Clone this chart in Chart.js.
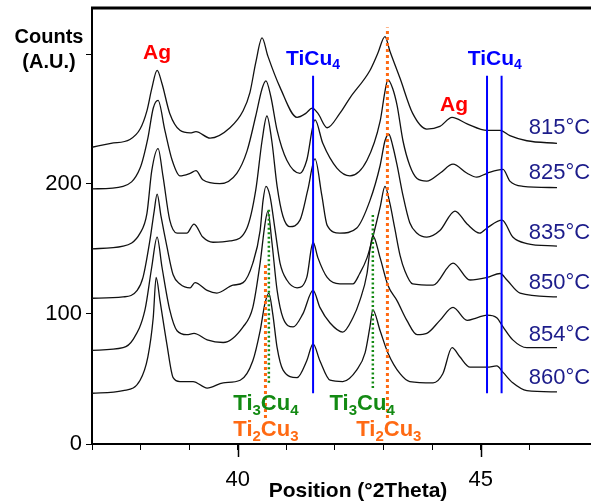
<!DOCTYPE html>
<html>
<head>
<meta charset="utf-8">
<script src="https://cdn.jsdelivr.net/npm/chart.js@4.4.1/dist/chart.umd.min.js"></script>
<style>
    html, body { margin: 0; padding: 0; background: #fff; overflow: hidden; }
    #wrap { width: 591px; height: 504px; position: relative; }
</style>
</head>
<body>
<div id="wrap"><canvas id="xrd"></canvas></div>
<script>
// temperatures of the six scans, top to bottom
const temps = ['815°C', '825°C', '835°C', '850°C', '854°C', '860°C'];

// [2theta, counts] (curves already offset in the figure)
const s815 = [[37.00,228],[37.39,231],[37.78,234],[37.99,242],[38.13,256],[38.23,273],[38.34,287],[38.44,277],[38.60,254],[38.81,241],[39.02,239],[39.14,240],[39.43,235],[39.84,243],[40.11,256],[40.25,270],[40.37,293],[40.50,312],[40.62,298],[40.87,274],[41.22,251],[41.40,254],[41.53,258],[41.65,254],[41.84,243],[42.10,254],[42.31,266],[42.72,287],[42.88,300],[43.03,313],[43.13,302],[43.34,281],[43.60,254],[43.89,242],[44.16,244],[44.41,251],[44.72,246],[45.13,241],[45.40,241],[45.60,237],[45.95,233],[46.57,231]];
const s825 = [[37.00,196],[37.64,198],[37.99,212],[38.15,235],[38.26,258],[38.36,264],[38.50,241],[38.65,218],[38.81,206],[39.02,208],[39.14,210],[39.28,203],[39.63,200],[39.98,208],[40.19,225],[40.37,252],[40.50,273],[40.58,279],[40.68,267],[40.81,241],[41.01,218],[41.28,208],[41.42,218],[41.59,249],[41.75,231],[42.04,212],[42.31,206],[42.66,218],[42.93,248],[43.03,271],[43.09,280],[43.19,273],[43.28,260],[43.40,233],[43.54,214],[43.69,204],[43.89,202],[44.16,208],[44.43,215],[44.72,208],[44.92,205],[45.13,208],[45.46,211],[45.60,202],[45.87,198],[46.57,197]];
const s835 = [[37.00,150],[37.64,152],[37.99,162],[38.13,177],[38.23,210],[38.36,227],[38.46,206],[38.60,172],[38.75,162],[38.95,162],[39.10,169],[39.28,159],[39.49,155],[39.84,156],[40.19,166],[40.37,195],[40.50,233],[40.60,252],[40.70,233],[40.81,198],[40.93,175],[41.07,167],[41.28,172],[41.44,195],[41.59,219],[41.73,191],[41.84,168],[42.10,162],[42.45,166],[42.72,187],[42.93,214],[43.03,233],[43.11,238],[43.19,229],[43.28,214],[43.40,191],[43.54,170],[43.69,162],[43.89,159],[44.16,164],[44.47,179],[44.72,169],[44.98,162],[45.13,166],[45.44,172],[45.66,159],[45.95,154],[46.57,152]];
const s850 = [[37.00,112],[37.64,113],[37.93,118],[38.05,128],[38.19,156],[38.28,179],[38.34,192],[38.42,175],[38.54,152],[38.67,130],[38.81,123],[39.02,120],[39.12,124],[39.37,118],[39.57,116],[39.90,122],[40.11,124],[40.31,139],[40.46,164],[40.52,187],[40.58,198],[40.66,191],[40.77,164],[40.87,139],[41.01,126],[41.22,120],[41.42,128],[41.55,155],[41.65,143],[41.84,128],[42.10,123],[42.37,123],[42.51,131],[42.66,143],[42.78,159],[42.93,182],[43.03,198],[43.13,185],[43.23,166],[43.34,145],[43.44,133],[43.60,123],[44.02,122],[44.43,139],[44.78,126],[45.13,128],[45.40,131],[45.54,126],[45.81,116],[46.57,113]];
const s854 = [[37.00,72],[37.64,74],[37.84,80],[38.09,103],[38.23,136],[38.34,159],[38.44,136],[38.60,103],[38.75,87],[38.95,84],[39.10,85],[39.37,80],[39.70,78],[40.11,90],[40.31,105],[40.46,139],[40.56,169],[40.62,179],[40.70,156],[40.81,118],[40.93,97],[41.14,90],[41.34,100],[41.55,118],[41.69,105],[41.90,93],[42.16,86],[42.37,97],[42.51,110],[42.66,131],[42.72,149],[42.78,160],[42.93,143],[43.09,122],[43.28,110],[43.48,95],[43.69,84],[43.89,85],[44.16,95],[44.43,105],[44.72,95],[44.92,97],[45.13,99],[45.33,97],[45.46,90],[45.66,80],[45.95,74],[46.57,74]];
const s860 = [[37.00,39],[37.64,41],[37.99,49],[38.15,67],[38.26,97],[38.32,128],[38.40,110],[38.54,77],[38.67,51],[38.81,48],[39.08,48],[39.37,43],[39.70,47],[40.05,49],[40.31,64],[40.46,87],[40.56,108],[40.64,116],[40.72,100],[40.81,74],[40.93,57],[41.22,51],[41.42,64],[41.55,77],[41.69,64],[41.90,49],[42.16,48],[42.45,57],[42.62,70],[42.72,90],[42.78,103],[42.93,87],[43.09,70],[43.34,54],[43.54,48],[44.02,47],[44.22,54],[44.41,74],[44.57,67],[44.78,59],[45.13,59],[45.33,60],[45.46,55],[45.66,47],[45.95,41],[46.57,40]];

// phase reference lines: [2theta, from counts, to counts]
const tiCu4Lines = [[41.55, 39, 283], [45.13, 39, 283], [45.43, 39, 283]];
const ti3Cu4Lines = [[40.64, 47, 182], [42.78, 43, 177]];
const ti2Cu3Lines = [[40.57, 20, 139], [43.08, 20, 320]];

const xTicks = [40, 45];
const yTicks = [0, 100, 200];
const yHiddenTick = 300;

const FONT = '"Liberation Sans", Arial, Helvetica, sans-serif';
const RED = '#ff0000', BLUE = '#0000ff', GREEN = '#138a13', ORANGE = '#ff6a13', NAVY = '#1c1c8a';

// text labels in data coords; parts flagged 1 are subscripts
const notes = [
    { x: 38.34, y: 302, size: 21, color: RED, parts: [['Ag', 0]] },
    { x: 44.45, y: 262, size: 21, color: RED, parts: [['Ag', 0]] },
    { x: 41.55, y: 297, size: 21, color: BLUE, parts: [['TiCu', 0], ['4', 1]] },
    { x: 45.29, y: 297, size: 21, color: BLUE, parts: [['TiCu', 0], ['4', 1]] },
    { x: 40.58, y: 32, size: 22, color: GREEN, parts: [['Ti', 0], ['3', 1], ['Cu', 0], ['4', 1]] },
    { x: 42.56, y: 32, size: 22, color: GREEN, parts: [['Ti', 0], ['3', 1], ['Cu', 0], ['4', 1]] },
    { x: 40.58, y: 12, size: 22, color: ORANGE, parts: [['Ti', 0], ['2', 1], ['Cu', 0], ['3', 1]] },
    { x: 43.11, y: 12, size: 22, color: ORANGE, parts: [['Ti', 0], ['2', 1], ['Cu', 0], ['3', 1]] },
];
const tempLabelX = 45.99;
const tempLabelY = [243, 208, 162, 124, 84, 51];

const curves = [s815, s825, s835, s850, s854, s860];
const datasets = curves.map((pts, i) => ({
    label: temps[i],
    data: pts.map(p => ({ x: p[0], y: p[1] })),
    borderColor: '#111',
    borderWidth: 1.3,
    pointRadius: 0,
    cubicInterpolationMode: 'monotone',
    fill: false,
    order: 2,
}));

function refLine(l, color, width, dash) {
    return {
        data: [{ x: l[0], y: l[1] }, { x: l[0], y: l[2] }],
        borderColor: color,
        borderWidth: width,
        borderDash: dash,
        borderCapStyle: 'butt',
        pointRadius: 0,
        fill: false,
        order: 1,
    };
}
tiCu4Lines.forEach(l => datasets.push(refLine(l, BLUE, 2, [])));
ti2Cu3Lines.forEach(l => datasets.push(refLine(l, ORANGE, 3, [3, 3])));
ti3Cu4Lines.forEach(l => datasets.push(refLine(l, GREEN, 2.5, [2, 2.5])));

function drawRich(ctx, parts, cx, cy, size, color) {
    const sub = Math.round(size * 0.68);
    let w = 0;
    parts.forEach(([t, s]) => {
        ctx.font = `bold ${s ? sub : size}px ${FONT}`;
        w += ctx.measureText(t).width;
    });
    let x = cx - w / 2;
    const base = cy + size * 0.36;
    ctx.fillStyle = color;
    ctx.textAlign = 'left';
    ctx.textBaseline = 'alphabetic';
    parts.forEach(([t, s]) => {
        ctx.font = `bold ${s ? sub : size}px ${FONT}`;
        ctx.fillText(t, x, s ? base + size * 0.2 : base);
        x += ctx.measureText(t).width;
    });
}

const decor = {
    id: 'decor',
    afterDraw(c) {
        const ctx = c.ctx;
        const { left, right, top, bottom } = c.chartArea;
        const xs = c.scales.x, ys = c.scales.y;
        ctx.save();
        // top frame line
        ctx.strokeStyle = '#000';
        ctx.lineWidth = 3;
        ctx.beginPath();
        ctx.moveTo(left - 1, top);
        ctx.lineTo(right, top);
        ctx.stroke();
        // longer major ticks on x, unlabeled tick at 300 on y
        ctx.lineWidth = 1.5;
        xTicks.forEach(v => {
            const px = Math.round(xs.getPixelForValue(v)) + 0.5;
            ctx.beginPath();
            ctx.moveTo(px, bottom);
            ctx.lineTo(px, bottom + 13);
            ctx.stroke();
        });
        ctx.lineWidth = 1;
        const py = Math.round(ys.getPixelForValue(yHiddenTick)) + 0.5;
        ctx.beginPath();
        ctx.moveTo(left - 6, py);
        ctx.lineTo(left, py);
        ctx.stroke();
        // phase labels
        notes.forEach(n => drawRich(ctx, n.parts, xs.getPixelForValue(n.x), ys.getPixelForValue(n.y), n.size, n.color));
        // temperature labels
        ctx.font = `22px ${FONT}`;
        ctx.fillStyle = NAVY;
        ctx.textAlign = 'left';
        ctx.textBaseline = 'middle';
        temps.forEach((t, i) => ctx.fillText(t, xs.getPixelForValue(tempLabelX), ys.getPixelForValue(tempLabelY[i])));
        // axis titles
        ctx.fillStyle = '#000';
        ctx.textAlign = 'center';
        ctx.font = `bold 20px ${FONT}`;
        ctx.fillText('Counts', 49, 37);
        ctx.fillText('(A.U.)', 49, 62);
        ctx.font = `bold 21px ${FONT}`;
        ctx.fillText('Position (°2Theta)', 358, 491);
        ctx.restore();
    }
};

new Chart(document.getElementById('xrd'), {
    type: 'line',
    data: { datasets },
    options: {
        responsive: true,
        maintainAspectRatio: false,
        animation: false,
        layout: { padding: { top: 8, left: 0, right: 0, bottom: 0 } },
        plugins: { legend: { display: false }, tooltip: { enabled: false } },
        scales: {
            x: {
                type: 'linear',
                min: 37,
                max: 47.27,
                afterBuildTicks: s => { s.ticks = s.ticks.filter(t => Number.isInteger(t.value)); },
                afterFit: s => { s.height = 60; s.paddingLeft = 0; s.paddingRight = 0; },
                ticks: {
                    stepSize: 1,
                    autoSkip: false,
                    maxRotation: 0,
                    padding: 17,
                    color: '#000',
                    font: { family: FONT, size: 22 },
                    callback: v => xTicks.includes(v) ? String(v) : '',
                },
                grid: { drawOnChartArea: false, tickLength: 6, color: '#000', lineWidth: 1 },
                border: { display: true, color: '#000', width: 2 },
            },
            y: {
                min: 0,
                max: 335,
                afterBuildTicks: s => { s.ticks = s.ticks.filter(t => yTicks.includes(t.value)); },
                afterFit: s => { s.width = 92; s.paddingTop = 0; s.paddingBottom = 0; },
                ticks: {
                    stepSize: 100,
                    padding: 4,
                    color: '#000',
                    font: { family: FONT, size: 22 },
                },
                grid: { drawOnChartArea: false, tickLength: 6, color: '#000', lineWidth: 1 },
                border: { display: true, color: '#000', width: 2 },
            },
        },
    },
    plugins: [decor],
});
</script>
</body>
</html>
